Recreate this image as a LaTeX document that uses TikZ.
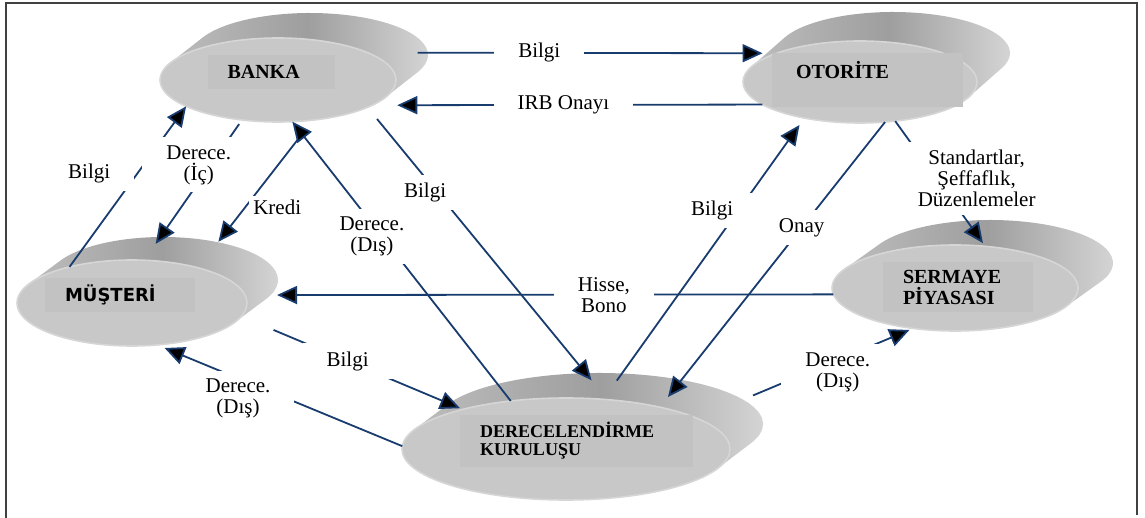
\documentclass[tikz,border=0pt]{standalone}
\usepackage{fontspec}
\setmainfont{Liberation Serif}
\newfontfamily\musterifont{DejaVu Sans}
\usetikzlibrary{shapes, arrows.meta, calc, backgrounds}

\definecolor{flowblue}{RGB}{24,60,110}
\definecolor{diskface}{RGB}{200,200,200}
\definecolor{diskbox}{RGB}{194,194,194}
\definecolor{diskrim}{RGB}{214,214,214}

% side of a disk: node, x radius, y radius, shift right, shift up (pt)
\newcommand{\diskside}[5]{%
  \pgfmathsetmacro\tangA{atan2(#3*#4,-#2*#5)}%
  \pgfmathsetmacro\tangB{\tangA-180}%
  \shade[left color=black!26, right color=black!14, middle color=black!38]
    ([shift={(#4pt,#5pt)}]#1.center) ++(\tangB:#2pt and #3pt)
    arc[start angle=\tangB, end angle=\tangA, x radius=#2pt, y radius=#3pt]
    -- ($(#1.center)+(\tangA:#2pt and #3pt)$)
    arc[start angle=\tangA, end angle=\tangB, x radius=#2pt, y radius=#3pt] -- cycle;
}

\begin{document}
\begin{tikzpicture}[%
    x=0.5pt, y=0.5pt,                     % one unit is one pixel of the sketch
    >={Triangle[length=10pt, width=9pt]}, % big filled heads
    ]

\tikzset{
  disk/.style={ellipse, fill=diskface, draw=diskrim, line width=0.8pt, inner sep=0pt, outer sep=0pt},
  disktext/.style={rectangle, fill=diskbox, align=left, inner xsep=10pt, inner ysep=3pt,
    font=\bfseries\fontsize{10}{10.5}\selectfont},
  flow/.style={draw=flowblue, line width=0.9pt},
  lbl/.style={fill=white, align=center, inner xsep=12pt, inner ysep=4pt,
    font=\fontsize{10.5}{10.5}\selectfont}
  };

\useasboundingbox (0,0) rectangle (1145,-518);

% frame
\draw[black!75, line width=1pt] (6,-518) -- (6,-3) -- (1137,-3) -- (1137,-515);

% DISKS
\node[disk, minimum width=118pt, minimum height=42pt] (banka) at (278,-80) {};
\node[disk, minimum width=117pt, minimum height=41pt] (otorite) at (860,-82) {};
\node[disk, minimum width=115pt, minimum height=43pt] (musteri) at (132,-303) {};
\node[disk, minimum width=123pt, minimum height=43pt] (sermaye) at (955,-288) {};
\node[disk, minimum width=164pt, minimum height=51pt] (derece) at (566,-449) {};

\begin{scope}[on background layer]
  \diskside{banka}{59}{21}{16}{12.5}
  \diskside{otorite}{58.5}{20.5}{16.5}{14.5}
  \diskside{musteri}{57.5}{21.5}{15.5}{11.5}
  \diskside{sermaye}{61.5}{21.5}{17.5}{12.5}
  \diskside{derece}{82}{25.5}{16.5}{12.5}
\end{scope}

% names
\node[disktext, text width=43.5pt, minimum height=17pt] (bankaT) at (271,-72) {BANKA};
\node[disktext, text width=71.5pt, inner xsep=12pt, minimum height=27pt, text depth=10pt] (otoriteT) at (867.5,-80) {OTORİTE};
\node[disktext, text width=55pt, minimum height=17pt,
  font=\musterifont\bfseries\fontsize{9}{10}\selectfont] (musteriT) at (120,-295) {MÜŞTERİ};
\node[disktext, text width=55pt, minimum height=25pt] (sermayeT) at (958,-287) {SERMAYE\\PİYASASI};
\node[disktext, text width=96.5pt, minimum height=26pt,
  font=\bfseries\fontsize{9}{9}\selectfont] (dereceT) at (576.5,-441) {DERECELENDİRME\\KURULUŞU};

% BANKA - OTORITE
\draw[flow] (banka.17) edge[->, shorten <=25pt, shorten >=7pt] node[lbl, pos=.42] {Bilgi} (otorite.161);
\draw[flow] (otorite.-167) edge[->, shorten >=12.5pt] node[lbl, pos=.51] {IRB Onayı} (banka.-15);

% MUSTERI
\draw[flow] (musteri.150) edge[->] node[lbl, pos=.58, left=1pt] {Bilgi} (banka.-164);
\draw[flow] (banka.-132) edge[->, shorten <=2.5pt, shorten >=10pt] node[lbl, pos=.32, xshift=-6pt] {Derece.\\(İç)} (musteri.74);
\draw[flow] (banka.-49) edge[->, shorten <=11.5pt, shorten >=16.5pt] node[lbl, pos=.59, xshift=16pt, inner sep=2pt] {Kredi} (musteri.28);
\draw[flow] (sermaye.-177) edge[->, shorten >=16pt] node[lbl, pos=.39] {Hisse,\\Bono} (musteri.4);
\draw[flow] (musteri.-7) edge[->, shorten <=17.5pt, shorten >=1.5pt] node[lbl, pos=.48] {Bilgi} (derece.159);
\draw[flow] (derece.179) edge[->, shorten >=4pt] node[lbl, pos=.67, yshift=-10pt] {Derece.\\(Dış)} (musteri.-59);

% DERECELENDIRME
\draw[flow] (derece.139) edge[->] node[lbl, pos=.59, xshift=-5pt] {Derece.\\(Dış)} (banka.-71);
\draw[flow] (banka.-17) edge[->, shorten <=7.5pt, shorten >=12.5pt] node[lbl, pos=.29, xshift=-6pt] {Bilgi} (derece.50);
\draw[flow] (derece.53) edge[->, shorten <=11.5pt, shorten >=4.25pt] node[lbl, pos=.67, xshift=-13pt] {Bilgi} (otorite.-147);
\draw[flow] (otorite.-58) edge[->, shorten >=6.5pt] node[lbl, pos=.37] {Onay} (derece.24);
\draw[flow] (derece.13) edge[->, shorten <=30pt, shorten >=2pt] node[lbl, pos=.65, yshift=-6pt] {Derece.\\(Dış)} (sermaye.-136);

% SERMAYE
\draw[flow] (otorite.-48) edge[->, shorten >=2pt] node[lbl, pos=.46, xshift=20pt] {Standartlar,\\Şeffaflık,\\Düzenlemeler} (sermaye.54);

\end{tikzpicture}
\end{document}
